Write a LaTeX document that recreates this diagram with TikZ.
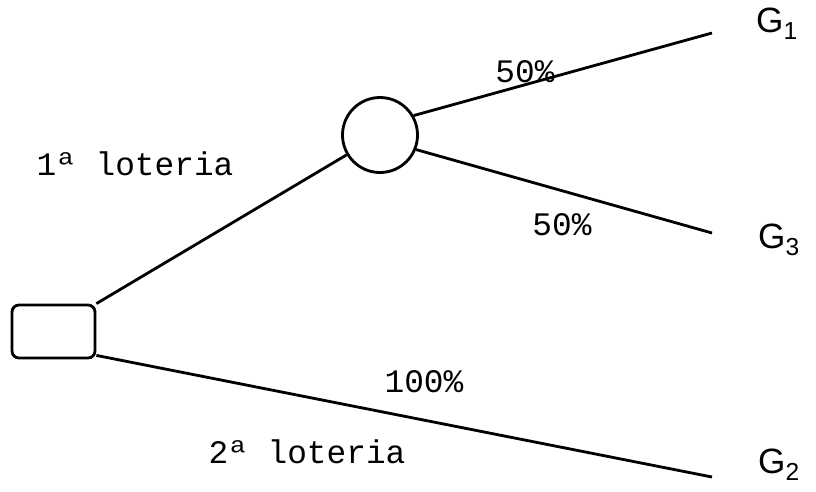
\documentclass[tikz,border=0pt]{standalone}
\usepackage{fontspec}
\setmainfont{Liberation Mono}
\newfontfamily\gfont{Liberation Sans}
\usetikzlibrary{positioning,calc}

\begin{document}
\begin{tikzpicture}[x=0.03cm,y=-0.03cm,line width=2.4pt,every node/.style={font=\fontsize{28}{30}\selectfont},decision/.style={draw,rounded corners=6pt,minimum width=2.49cm,minimum height=1.59cm,inner sep=0pt},chance/.style={draw,circle,minimum size=2.25cm,inner sep=0pt},lbl/.style={inner sep=1pt},result/.style={font=\gfont\fontsize{30}{32}\selectfont,inner sep=1pt}]
\useasboundingbox (0,0) rectangle (816,491);
\node[decision] (choice) at (53.5,331.5) {};
\node[chance] (lot1) at (380,135) {};
\coordinate (e1) at (712,33);\coordinate (e3) at (712,233);\coordinate (e2) at (712,477);
\node[result] (g1) at (777,24) {G\textsubscript{1}};
\node[result] (g3) at (779,240) {G\textsubscript{3}};
\node[result] (g2) at (779,465) {G\textsubscript{2}};
\node[lbl] (l1) at (135,164) {1ª loteria};
\node[lbl] (l2) at (307,452) {2ª loteria};
\node[lbl] (p1) at (525,72) {50\%};
\node[lbl] (p3) at (562,225) {50\%};
\node[lbl] (p2) at (424,382) {100\%};
\draw (choice.north east)--(lot1);
\draw (lot1.30)--(e1);\draw (lot1.-22)--(e3);
\draw ($(choice.south east)+(0,-4)$)--(e2);
\end{tikzpicture}
\end{document}
